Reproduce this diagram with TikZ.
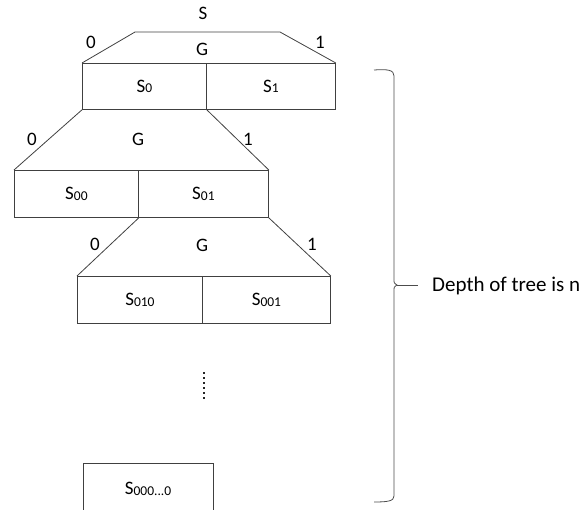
\documentclass[tikz,border=0pt]{standalone}
\usepackage{fontspec}
\setmainfont{Carlito}
\newcommand{\sbs}[1]{\raisebox{-0.3pt}{\fontsize{13.5}{13.5}\selectfont #1}}
\begin{document}
\begin{tikzpicture}[x=1pt,y=-1pt,
  ln/.style={draw=black!75,line width=0.8pt},
  cell/.style={ln,rectangle,anchor=north west,inner sep=0pt,font=\fontsize{19}{19}\selectfont},
  lbl/.style={inner sep=0pt,font=\fontsize{19}{19}\selectfont}]
\useasboundingbox (0,0) rectangle (580,509);
\begin{scope}
\clip (0,0) rectangle (580,509);
% level 1
\node[cell,minimum width=124pt,minimum height=46pt] (s0) at (82,63) {S\sbs{0}};
\node[cell,minimum width=129pt,minimum height=46pt] (s1) at (206,63) {S\sbs{1}};
\coordinate (tl) at (135,32);
\coordinate (tr) at (280,32);
\draw[ln] (s0.north west) -- (tl) -- (tr) -- (s1.north east);
\node[lbl] (S) at (203,13) {S};
\node[lbl] (g1) at (202,49) {G};
\node[lbl] (z1) at (91,42) {0};
\node[lbl] (o1) at (320,42) {1};
% level 2
\node[cell,minimum width=124pt,minimum height=47pt] (s00) at (14,170) {S\sbs{00}};
\node[cell,minimum width=130pt,minimum height=47pt] (s01) at (138,170) {S\sbs{01}};
\draw[ln] (s0.south west) -- (s00.north west);
\draw[ln] (s0.south east) -- (s01.north east);
\node[lbl] (g2) at (138,139) {G};
\node[lbl] (z2) at (32,139) {0};
\node[lbl] (o2) at (248,139) {1};
% level 3
\node[cell,minimum width=125pt,minimum height=47pt] (s010) at (77,276) {S\sbs{010}};
\node[cell,minimum width=128pt,minimum height=47pt] (s001) at (202,276) {S\sbs{001}};
\draw[ln] (s00.south east) -- (s010.north west);
\draw[ln] (s01.south east) -- (s001.north east);
\node[lbl] (g3) at (202,245) {G};
\node[lbl] (z3) at (95,244) {0};
\node[lbl] (o3) at (312,244) {1};
% dots
\foreach \yy in {372,377,...,397} \fill[black!85] (203,\yy) rectangle (205.2,\yy+2.2);
\coordinate (dots) at (204,385);
% bottom box
\node[cell,minimum width=130pt,minimum height=56pt] (sn) at (83,463) {};
\node[lbl] (snl) at (148,489) {S\sbs{000...0}};
\end{scope}
% brace
\draw[draw=black!70,line width=0.8pt]
  (374,70) .. controls (388,69) and (394,70) .. (394,76)
  -- (394,279) .. controls (394,283) .. (397,285)
  .. controls (394,287) .. (394,291)
  -- (394,496) .. controls (394,501) and (388,502) .. (374,502);
\coordinate (tip) at (397,285);
\coordinate (tipe) at (418,285);
\draw[draw=black!70,line width=0.8pt] (tip) -- (tipe);
\node[inner sep=0pt,anchor=base west,font=\fontsize{21}{21}\selectfont] (depth) at (432,291) {Depth of tree is n};
\end{tikzpicture}
\end{document}
